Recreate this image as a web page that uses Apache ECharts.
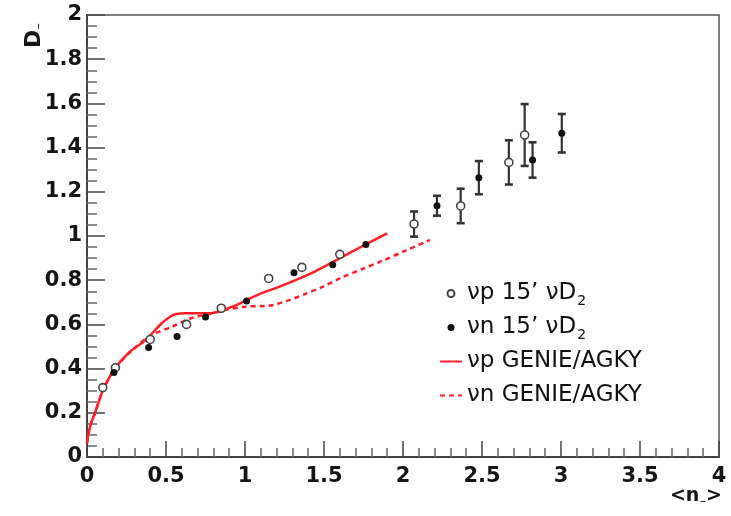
<!DOCTYPE html>
<html lang="en">
<head>
    <meta charset="UTF-8">
    <title>D- vs n-</title>
    <script src="https://cdn.jsdelivr.net/npm/echarts@6/dist/echarts.min.js"></script>
    <style>
        html, body { margin: 0; padding: 0; background: #fff; }
        #main { width: 731px; height: 516px; }
    </style>
</head>
<body>
<div id="main"></div>

<script type="text/javascript">

    // ---- data ----
    var vpX   = [0.10, 0.18, 0.40, 0.63, 0.85, 1.15, 1.36, 1.60, 2.07, 2.365, 2.67, 2.77];
    var vpY   = [0.314, 0.404, 0.532, 0.600, 0.673, 0.808, 0.858, 0.917, 1.054, 1.136, 1.333, 1.457];
    var vpErr = [0, 0, 0, 0, 0, 0, 0, 0, 0.057, 0.078, 0.100, 0.140];

    var vnX   = [0.17, 0.39, 0.57, 0.75, 1.01, 1.31, 1.555, 1.765, 2.215, 2.48, 2.82, 3.005];
    var vnY   = [0.382, 0.496, 0.545, 0.633, 0.706, 0.834, 0.870, 0.962, 1.137, 1.264, 1.344, 1.465];
    var vnErr = [0, 0, 0, 0, 0, 0, 0, 0, 0.045, 0.075, 0.080, 0.087];

    // GENIE/AGKY curves
    var vpGenieX = [0, 0.02, 0.05, 0.10, 0.17, 0.26, 0.37, 0.47, 0.53, 0.56, 0.62, 0.77, 0.85, 0.97, 1.0, 1.13, 1.22, 1.40, 1.56, 1.72, 1.90];
    var vpGenieY = [0.062, 0.14, 0.198, 0.30, 0.394, 0.469, 0.529, 0.603, 0.637, 0.646, 0.650, 0.650, 0.662, 0.695, 0.707, 0.748, 0.771, 0.825, 0.884, 0.945, 1.012];

    var vnGenieX = [0, 0.02, 0.05, 0.10, 0.17, 0.30, 0.41, 0.54, 0.66, 0.79, 0.87, 1.0, 1.13, 1.18, 1.28, 1.39, 1.50, 1.60, 1.75, 1.88, 2.02, 2.17];
    var vnGenieY = [0.062, 0.14, 0.198, 0.30, 0.394, 0.492, 0.552, 0.590, 0.628, 0.650, 0.665, 0.680, 0.684, 0.688, 0.710, 0.740, 0.773, 0.808, 0.853, 0.891, 0.935, 0.982];

    var xTicks = [0, 0.5, 1, 1.5, 2, 2.5, 3, 3.5, 4];
    var yTicks = [0, 0.2, 0.4, 0.6, 0.8, 1, 1.2, 1.4, 1.6, 1.8, 2];

    var legendNames = ['νp 15’ νD2', 'νn 15’ νD2', 'νp GENIE/AGKY', 'νn GENIE/AGKY'];

    function zip(xs, ys, es) {
        return xs.map(function (x, i) {
            return es ? [x, ys[i], es[i]] : [x, ys[i]];
        });
    }

    // error bars with small caps
    function errorBars(params, api) {
        var e = api.value(2);
        if (!e) return;
        var x = api.value(0), y = api.value(1);
        var top = api.coord([x, y + e]);
        var bot = api.coord([x, y - e]);
        var st = {stroke: '#333', lineWidth: 2.2};
        return {
            type: 'group',
            children: [
                {type: 'line', shape: {x1: top[0], y1: top[1], x2: bot[0], y2: bot[1]}, style: st},
                {type: 'line', shape: {x1: top[0] - 4, y1: top[1], x2: top[0] + 4, y2: top[1]}, style: {stroke: '#333', lineWidth: 2.6}},
                {type: 'line', shape: {x1: bot[0] - 4, y1: bot[1], x2: bot[0] + 4, y2: bot[1]}, style: {stroke: '#333', lineWidth: 2.6}}
            ]
        };
    }

    var labelFont = {
        fontFamily: 'DejaVu Sans',
        fontWeight: 'bold',
        fontSize: 21,
        color: '#151515'
    };

    var myChart = echarts.init(document.getElementById('main'));

    var option = {
        backgroundColor: '#fff',
        animation: false,
        grid: {
            left: 87,
            right: 12,
            top: 15,
            bottom: 59,
            show: true,
            borderColor: '#555',
            borderWidth: 1.5
        },
        legend: {
            orient: 'vertical',
            left: 434,
            top: 277,
            itemWidth: 22,
            itemHeight: 7,
            itemGap: 7.5,
            data: [
                {name: legendNames[0]},
                {name: legendNames[1]},
                {name: legendNames[2], itemStyle: {opacity: 0}},
                {name: legendNames[3], itemStyle: {opacity: 0}}
            ],
            formatter: function (name) {
                if (name.slice(-1) === '2') {
                    return '{t|' + name.slice(0, -1) + '}{s|2}';
                }
                return '{t|' + name + '}{s|\u00a0}';
            },
            textStyle: {
                fontFamily: 'DejaVu Sans',
                fontSize: 23,
                color: '#111',
                rich: {
                    t: {fontFamily: 'DejaVu Sans', fontSize: 23, color: '#111', lineHeight: 30},
                    s: {fontFamily: 'DejaVu Sans', fontSize: 14, color: '#111', lineHeight: 16, verticalAlign: 'bottom', padding: [0, 0, 0, 1]}
                }
            }
        },
        xAxis: {
            type: 'value',
            min: xTicks[0],
            max: xTicks[xTicks.length - 1],
            interval: 0.5,
            axisLine: {lineStyle: {color: '#444', width: 2}},
            axisTick: {show: true, inside: true, length: 16, lineStyle: {color: '#444', width: 1.5}},
            minorTick: {show: true, splitNumber: 5, length: 9, lineStyle: {color: '#666', width: 1.5}},
            axisLabel: Object.assign({margin: 9}, labelFont),
            splitLine: {show: false}
        },
        yAxis: {
            type: 'value',
            min: yTicks[0],
            max: yTicks[yTicks.length - 1],
            interval: 0.2,
            axisLine: {show: true, lineStyle: {color: '#444', width: 2}},
            axisTick: {show: true, inside: true, length: 18, lineStyle: {color: '#444', width: 1.5}},
            minorTick: {show: true, splitNumber: 4, length: 10, lineStyle: {color: '#666', width: 1.5}},
            axisLabel: Object.assign({margin: 5}, labelFont),
            splitLine: {show: false}
        },
        graphic: [
            {
                type: 'text',
                x: 23,
                y: 48,
                rotation: Math.PI / 2,
                style: {
                    text: '{d|D}{s|−}',
                    rich: {
                        d: {fontFamily: 'DejaVu Sans', fontWeight: 'bold', fontSize: 22, fill: '#151515'},
                        s: {fontFamily: 'DejaVu Sans', fontWeight: 'bold', fontSize: 8, fill: '#151515', padding: [10, 0, 0, 0]}
                    }
                }
            },
            {
                type: 'text',
                right: 9,
                top: 487,
                style: {
                    text: '{a|<n}{s|−}{a|>}',
                    rich: {
                        a: {fontFamily: 'DejaVu Sans', fontWeight: 'bold', fontSize: 19, fill: '#151515'},
                        s: {fontFamily: 'DejaVu Sans', fontWeight: 'bold', fontSize: 8, fill: '#151515', padding: [10, 0, 0, 0]}
                    }
                }
            }
        ],
        series: [
            {
                name: legendNames[2],
                type: 'line',
                data: zip(vpGenieX, vpGenieY),
                symbol: 'none',
                smooth: 0.3,
                z: 2,
                lineStyle: {color: '#ff1f2a', width: 2.5},
                itemStyle: {color: '#ff1f2a'}
            },
            {
                name: legendNames[3],
                type: 'line',
                data: zip(vnGenieX, vnGenieY),
                symbol: 'none',
                smooth: 0.3,
                z: 2,
                lineStyle: {color: '#ff1f2a', width: 2.5, type: [5, 4]},
                itemStyle: {color: '#ff1f2a'}
            },
            {
                type: 'custom',
                renderItem: errorBars,
                data: zip(vpX, vpY, vpErr),
                z: 3
            },
            {
                type: 'custom',
                renderItem: errorBars,
                data: zip(vnX, vnY, vnErr),
                z: 3
            },
            {
                name: legendNames[0],
                type: 'scatter',
                data: zip(vpX, vpY),
                symbol: 'circle',
                symbolSize: 8,
                z: 4,
                itemStyle: {color: '#fff', borderColor: '#444', borderWidth: 1.6, opacity: 1}
            },
            {
                name: legendNames[1],
                type: 'scatter',
                data: zip(vnX, vnY),
                symbol: 'circle',
                symbolSize: 7,
                z: 4,
                itemStyle: {color: '#111', opacity: 1}
            }
        ]
    };

    myChart.setOption(option);

</script>
</body>
</html>
